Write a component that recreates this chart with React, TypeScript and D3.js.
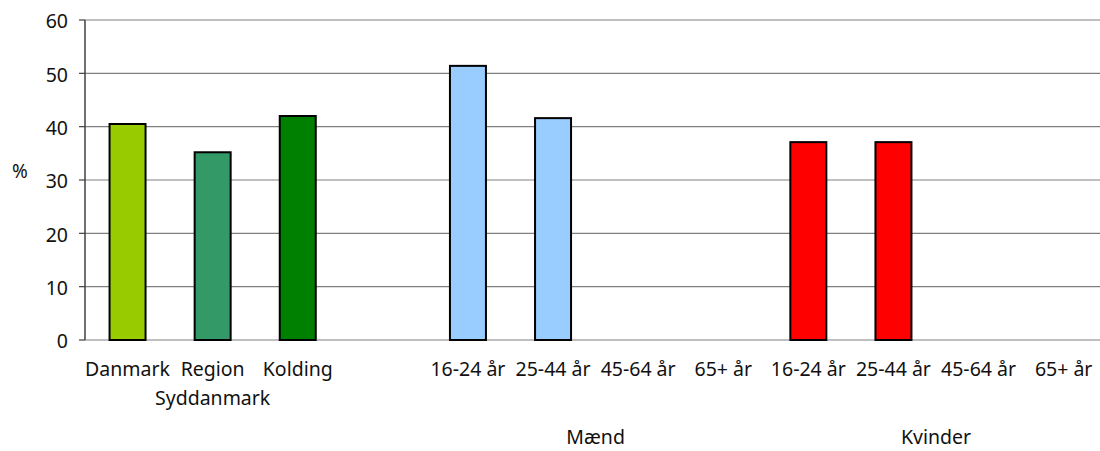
import React from "react";
import * as d3 from "d3";

const categories = ["Danmark", "Region\nSyddanmark", "Kolding", "", "16-24 år", "25-44 år", "45-64 år", "65+ år", "16-24 år", "25-44 år", "45-64 år", "65+ år"];
const values: (number | null)[] = [40.5, 35.2, 42.0, null, 51.4, 41.6, null, null, 37.1, 37.1, null, null];
const colors = ["#99CC00", "#339966", "#008000", "none", "#99CCFF", "#99CCFF", "#99CCFF", "#99CCFF", "#FF0000", "#FF0000", "#FF0000", "#FF0000"];
const yTicks = [0, 10, 20, 30, 40, 50, 60];
const groups = [
  { label: "Mænd", from: 4, to: 7 },
  { label: "Kvinder", from: 8, to: 11 },
];

export default function App() {
  const W = 1100, H = 451;
  const left = 85, top = 20, bottom = 340;
  const step = 85.1;
  const x = d3.scaleBand<number>()
    .domain(categories.map((_, i) => i))
    .range([left, left + step * categories.length])
    .paddingInner(0.577)
    .paddingOuter(0.577 / 2);
  const y = d3.scaleLinear().domain([0, 60]).range([bottom, top]);
  const font = "'Noto Sans', 'Open Sans', sans-serif";
  const center = (i: number) => (x(i) as number) + x.bandwidth() / 2;
  const fs = 19.5;

  return (
    <svg width={W} height={H} style={{ position: "absolute", left: 0, top: 0, background: "#fff" }} fontFamily={font}>
      {yTicks.map((t) => (
        <g key={t}>
          <line x1={left} x2={W} y1={y(t)} y2={y(t)} stroke="#808080" strokeWidth={1.2} />
          <line x1={left - 6} x2={left} y1={y(t)} y2={y(t)} stroke="#404040" strokeWidth={1.2} />
          <text x={68} y={y(t) + 3} textAnchor="end" dominantBaseline="middle" fontSize={fs} fill="#111">{t}</text>
        </g>
      ))}
      <line x1={left} x2={left} y1={top} y2={bottom} stroke="#404040" strokeWidth={1.5} />
      <text x={20} y={173} textAnchor="middle" dominantBaseline="middle" fontSize={19} fill="#111">%</text>
      {values.map((v, i) =>
        v == null ? null : (
          <rect key={i} x={x(i)} y={y(v)} width={x.bandwidth()} height={y(0) - y(v)} fill={colors[i]} stroke="#000" strokeWidth={2} />
        )
      )}
      {categories.map((c, i) =>
        c.split("\n").map((line, j) => (
          <text key={i + "-" + j} x={center(i)} y={376 + j * 29} textAnchor="middle" fontSize={fs} fill="#111">{line}</text>
        ))
      )}
      {groups.map((g) => (
        <text key={g.label} x={(center(g.from) + center(g.to)) / 2} y={444} textAnchor="middle" fontSize={fs} fill="#111">{g.label}</text>
      ))}
    </svg>
  );
}
